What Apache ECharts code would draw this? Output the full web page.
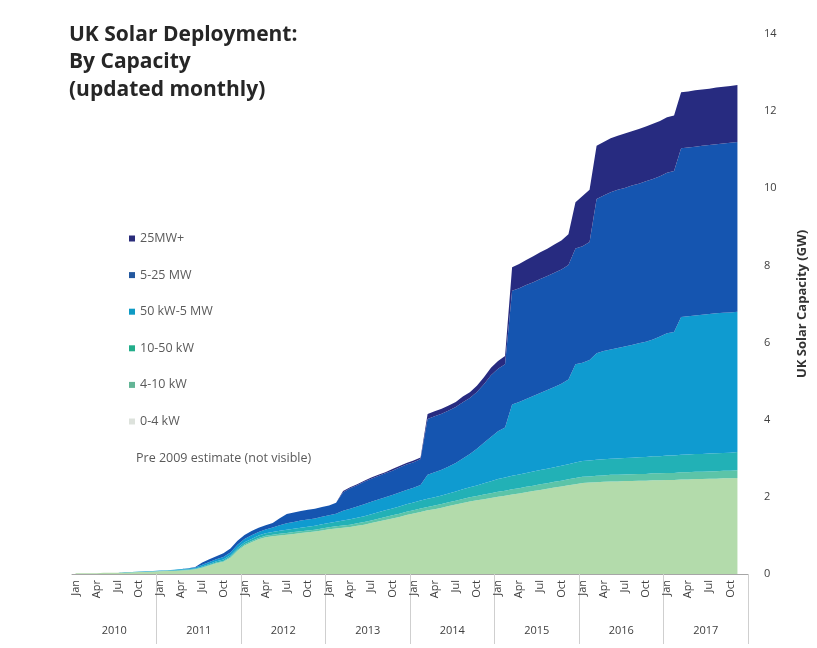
<!DOCTYPE html>
<html>
<head>
<meta charset="utf-8">
<title>UK Solar Deployment: By Capacity</title>
<script src="https://cdn.jsdelivr.net/npm/echarts@6/dist/echarts.min.js"></script>
<style>
  html, body { margin: 0; padding: 0; background: #ffffff; }
  #chart { width: 817px; height: 648px; }
</style>
</head>
<body>
<div id="chart"></div>
<script>
// Cumulative UK solar capacity (GW) by installation size, monthly from Jan 2010 to Nov 2017.
const years = ['2010', '2011', '2012', '2013', '2014', '2015', '2016', '2017'];
const monthNames = ['Jan', 'Feb', 'Mar', 'Apr', 'May', 'Jun', 'Jul', 'Aug', 'Sep', 'Oct', 'Nov', 'Dec'];

const cap0to4kW = [
  0.02, 0.02, 0.02, 0.02, 0.03, 0.03, 0.03, 0.04, 0.04, 0.05, 0.05, 0.06,
  0.07, 0.08, 0.08, 0.09, 0.10, 0.12, 0.16, 0.22, 0.28, 0.32, 0.42, 0.60,
  0.74, 0.82, 0.90, 0.95, 0.98, 1.00, 1.02, 1.04, 1.06, 1.08, 1.10, 1.13,
  1.16, 1.18, 1.20, 1.22, 1.25, 1.28, 1.32, 1.36, 1.40, 1.44, 1.48, 1.53,
  1.57, 1.61, 1.65, 1.68, 1.72, 1.76, 1.80, 1.84, 1.88, 1.91, 1.94, 1.97,
  2.00, 2.03, 2.06, 2.09, 2.12, 2.15, 2.18, 2.21, 2.24, 2.27, 2.30, 2.33,
  2.36, 2.37, 2.38, 2.39, 2.40, 2.40, 2.41, 2.41, 2.42, 2.42, 2.43, 2.43,
  2.44, 2.44, 2.45, 2.45, 2.46, 2.46, 2.47, 2.47, 2.48, 2.48, 2.49
];
const cap4to10kW = [
  0, 0, 0, 0, 0, 0, 0, 0, 0.005, 0.005, 0.005, 0.005,
  0.005, 0.005, 0.005, 0.01, 0.01, 0.01, 0.015, 0.015, 0.02, 0.02, 0.025, 0.03,
  0.03, 0.035, 0.035, 0.04, 0.04, 0.045, 0.045, 0.05, 0.05, 0.05, 0.05, 0.05,
  0.05, 0.055, 0.06, 0.06, 0.065, 0.07, 0.07, 0.075, 0.075, 0.08, 0.08, 0.085,
  0.085, 0.09, 0.09, 0.095, 0.095, 0.10, 0.10, 0.105, 0.11, 0.115, 0.12, 0.125,
  0.13, 0.13, 0.135, 0.135, 0.14, 0.14, 0.145, 0.145, 0.15, 0.15, 0.155, 0.16,
  0.16, 0.16, 0.165, 0.165, 0.17, 0.17, 0.17, 0.175, 0.175, 0.175, 0.18, 0.18,
  0.18, 0.18, 0.185, 0.185, 0.19, 0.19, 0.19, 0.195, 0.195, 0.195, 0.20
];
const cap10to50kW = [
  0, 0, 0, 0, 0, 0, 0, 0.005, 0.005, 0.005, 0.005, 0.005,
  0.005, 0.005, 0.01, 0.01, 0.01, 0.015, 0.02, 0.025, 0.03, 0.035, 0.04, 0.045,
  0.05, 0.055, 0.06, 0.065, 0.07, 0.075, 0.08, 0.085, 0.09, 0.095, 0.10, 0.11,
  0.115, 0.12, 0.13, 0.14, 0.145, 0.15, 0.16, 0.165, 0.175, 0.18, 0.19, 0.195,
  0.20, 0.205, 0.21, 0.215, 0.22, 0.23, 0.24, 0.25, 0.26, 0.27, 0.29, 0.31,
  0.33, 0.34, 0.35, 0.355, 0.36, 0.365, 0.37, 0.375, 0.38, 0.385, 0.39, 0.40,
  0.41, 0.41, 0.415, 0.42, 0.42, 0.425, 0.43, 0.43, 0.435, 0.44, 0.44, 0.445,
  0.45, 0.455, 0.455, 0.46, 0.46, 0.46, 0.465, 0.465, 0.465, 0.47, 0.47
];
const cap50kWto5MW = [
  0, 0, 0, 0, 0, 0, 0.005, 0.005, 0.005, 0.005, 0.01, 0.01,
  0.01, 0.01, 0.015, 0.02, 0.02, 0.025, 0.045, 0.05, 0.055, 0.065, 0.075, 0.085,
  0.09, 0.095, 0.095, 0.10, 0.115, 0.145, 0.17, 0.175, 0.185, 0.19, 0.19, 0.195,
  0.20, 0.21, 0.25, 0.27, 0.29, 0.31, 0.32, 0.33, 0.34, 0.35, 0.36, 0.37,
  0.38, 0.40, 0.62, 0.65, 0.67, 0.70, 0.74, 0.80, 0.86, 0.95, 1.05, 1.15,
  1.24, 1.30, 1.85, 1.88, 1.92, 1.96, 2.00, 2.04, 2.08, 2.13, 2.20, 2.55,
  2.55, 2.61, 2.76, 2.805, 2.83, 2.865, 2.89, 2.925, 2.95, 2.985, 3.03, 3.10,
  3.17, 3.20, 3.57, 3.585, 3.59, 3.61, 3.615, 3.63, 3.63, 3.635, 3.64
];
const cap5to25MW = [
  0, 0, 0, 0, 0, 0, 0, 0, 0, 0, 0, 0,
  0, 0, 0, 0, 0.01, 0.01, 0.06, 0.07, 0.075, 0.10, 0.10, 0.10,
  0.10, 0.11, 0.11, 0.11, 0.12, 0.18, 0.24, 0.245, 0.25, 0.25, 0.25, 0.25,
  0.25, 0.285, 0.48, 0.53, 0.55, 0.58, 0.60, 0.61, 0.62, 0.63, 0.65, 0.66,
  0.665, 0.675, 1.45, 1.45, 1.45, 1.45, 1.45, 1.455, 1.455, 1.475, 1.52, 1.595,
  1.62, 1.64, 2.95, 2.95, 2.95, 2.95, 2.955, 2.955, 2.96, 2.96, 2.965, 3.00,
  3.02, 3.06, 4.00, 4.03, 4.08, 4.10, 4.11, 4.13, 4.14, 4.16, 4.16, 4.16,
  4.16, 4.17, 4.38, 4.38, 4.38, 4.38, 4.38, 4.38, 4.39, 4.40, 4.40
];
const cap25MWplus = [
  0, 0, 0, 0, 0, 0, 0, 0, 0, 0, 0, 0,
  0, 0, 0, 0, 0, 0, 0, 0, 0, 0, 0, 0,
  0, 0, 0, 0, 0, 0, 0, 0, 0, 0, 0, 0,
  0, 0, 0.03, 0.03, 0.03, 0.03, 0.03, 0.03, 0.03, 0.04, 0.04, 0.04,
  0.04, 0.04, 0.13, 0.13, 0.13, 0.13, 0.13, 0.15, 0.15, 0.16, 0.18, 0.20,
  0.20, 0.21, 0.61, 0.63, 0.65, 0.67, 0.69, 0.71, 0.73, 0.75, 0.80, 1.20,
  1.30, 1.35, 1.38, 1.39, 1.40, 1.40, 1.41, 1.41, 1.42, 1.42, 1.43, 1.43,
  1.44, 1.44, 1.45, 1.45, 1.46, 1.46, 1.46, 1.47, 1.47, 1.47, 1.48
];

// Month categories ("Jan 2010" ... "Dec 2017")
const months = [];
years.forEach(y => monthNames.forEach(m => months.push(m + ' ' + y)));

const bands = [
  { name: '0-4 kW',     data: cap0to4kW,    area: '#b3dbab', key: '#dde2dc' },
  { name: '4-10 kW',    data: cap4to10kW,   area: '#5cc4a8', key: '#63b596' },
  { name: '10-50 kW',   data: cap10to50kW,  area: '#22b1b6', key: '#22ad8a' },
  { name: '50 kW-5 MW', data: cap50kWto5MW, area: '#0f9bd0', key: '#0e9ac4' },
  { name: '5-25 MW',    data: cap5to25MW,   area: '#1555b0', key: '#23589f' },
  { name: '25MW+',      data: cap25MWplus,  area: '#272b80', key: '#2a2c7a' }
];

const font = '"Open Sans", "Liberation Sans", sans-serif';
const chart = echarts.init(document.getElementById('chart'), null, { renderer: 'canvas' });

chart.setOption({
  animation: false,
  backgroundColor: '#ffffff',
  textStyle: { fontFamily: font },
  title: {
    text: 'UK Solar Deployment:\nBy Capacity\n(updated monthly)',
    left: 64,
    top: 16,
    textStyle: { fontFamily: font, fontSize: 21, fontWeight: 'bold', color: '#262626', lineHeight: 27.5 }
  },
  legend: {
    orient: 'vertical',
    left: 124,
    top: 226,
    itemWidth: 6,
    itemHeight: 6,
    itemGap: 21.6,
    icon: 'rect',
    textStyle: { fontFamily: font, fontSize: 12.5, color: '#5a5a5a', lineHeight: 15 },
    data: bands.slice().reverse().map(b => ({ name: b.name, itemStyle: { color: b.key } }))
  },
  graphic: [{
    type: 'text',
    left: 136,
    top: 452,
    style: { text: 'Pre 2009 estimate (not visible)', fontFamily: font, fontSize: 12.5, fill: '#5a5a5a' }
  }],
  grid: { left: 72, right: 65, top: 34, bottom: 74 },
  xAxis: [{
    type: 'category',
    data: months,
    boundaryGap: true,
    axisLine: { onZero: false, lineStyle: { color: '#a6a6a6', width: 1 } },
    axisTick: { show: false },
    axisLabel: {
      interval: 2,
      rotate: 90,
      margin: 6,
      fontSize: 11,
      color: '#404040',
      formatter: v => v.split(' ')[0]
    },
    splitLine: { show: false }
  }, {
    type: 'category',
    data: years,
    position: 'bottom',
    boundaryGap: true,
    axisLine: { show: false, onZero: false },
    axisTick: { show: true, length: 70, interval: idx => idx > 0, lineStyle: { color: '#cfcfcf' } },
    axisLabel: { margin: 51, fontSize: 11, color: '#404040' },
    splitLine: { show: false }
  }],
  yAxis: {
    type: 'value',
    position: 'right',
    min: 0,
    max: 14,
    interval: 2,
    splitLine: { show: false },
    axisLine: { show: false },
    axisTick: { show: false },
    axisLabel: { margin: 16, fontSize: 11, color: '#404040' },
    name: 'UK Solar Capacity (GW)',
    nameLocation: 'middle',
    nameRotate: 90,
    nameGap: 48,
    nameTextStyle: { fontFamily: font, fontSize: 13, fontWeight: 'bold', color: '#333333' }
  },
  series: bands.map(b => ({
    name: b.name,
    type: 'line',
    stack: 'capacity',
    data: b.data,
    xAxisIndex: 0,
    symbol: 'none',
    smooth: false,
    lineStyle: { width: 0 },
    itemStyle: { color: b.area },
    areaStyle: { color: b.area, opacity: 1 },
    emphasis: { disabled: true }
  }))
});
</script>
</body>
</html>
